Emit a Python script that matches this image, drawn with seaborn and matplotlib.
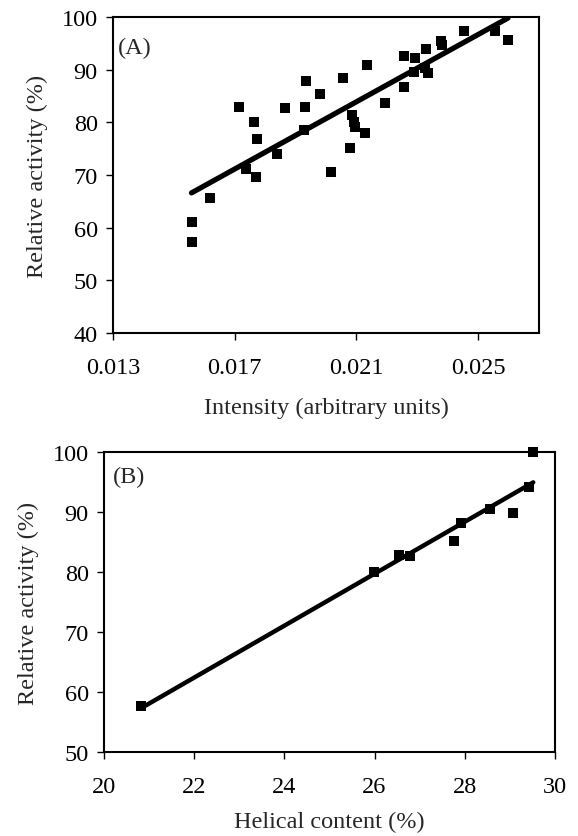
import numpy as np
import seaborn as sns
import matplotlib.pyplot as plt

# (A) intensity vs relative activity
intensity = [0.01558, 0.01560, 0.01618, 0.01713, 0.01738, 0.01762, 0.01769, 0.01773,
             0.01839, 0.01864, 0.01929, 0.01932, 0.01935, 0.01981, 0.02015, 0.02057,
             0.02080, 0.02086, 0.02091, 0.02096, 0.02127, 0.02135, 0.02194, 0.02258,
             0.02255, 0.02291, 0.02288, 0.02328, 0.02335, 0.02326, 0.02378, 0.02380,
             0.02454, 0.02556, 0.02598]
activity_a = [61.0, 57.3, 65.6, 82.9, 71.1, 80.0, 69.7, 76.8,
              74.0, 82.7, 78.6, 83.0, 87.8, 85.3, 70.5, 88.4,
              75.1, 81.3, 80.1, 79.1, 78.0, 90.9, 83.7, 86.8,
              92.5, 92.3, 89.5, 93.9, 89.4, 90.4, 95.5, 94.6,
              97.3, 97.4, 95.7]

# (B) helical content vs relative activity
helical = [20.82, 25.99, 26.55, 26.78, 27.77, 27.92, 28.57, 29.08, 29.42, 29.52]
activity_b = [57.7, 80.0, 82.8, 82.6, 85.1, 88.1, 90.5, 89.9, 94.1, 100.0]

xticks_a = [0.013, 0.017, 0.021, 0.025]
yticks_a = [40, 50, 60, 70, 80, 90, 100]
xticks_b = [20, 22, 24, 26, 28, 30]
yticks_b = [50, 60, 70, 80, 90, 100]

sns.set_theme(style='ticks')
plt.rcParams['font.family'] = ['Liberation Serif', 'DejaVu Serif']
fs = 17.5

fig = plt.figure(figsize=(5.78, 8.37), dpi=100)
ax1 = fig.add_axes([0.1955, 0.601, 0.737, 0.3775])
ax2 = fig.add_axes([0.180, 0.1004, 0.780, 0.3584])

pts = dict(marker='s', s=48, color='black', alpha=1, linewidths=0, clip_on=False)
sns.regplot(x=intensity, y=activity_a, ax=ax1, ci=None, truncate=True, color='black',
            marker='s', scatter_kws=pts, line_kws=dict(lw=3.8, solid_capstyle='round'))
sns.regplot(x=helical, y=activity_b, ax=ax2, ci=None, truncate=True, color='black',
            marker='s', scatter_kws=pts, line_kws=dict(lw=3.2, solid_capstyle='round'))

ax1.set_xlim(0.013, 0.027)
ax1.set_ylim(40, 100)
ax1.set_xticks(xticks_a)
ax1.set_xticklabels(['%.3f' % t for t in xticks_a])
ax1.set_yticks(yticks_a)
ax1.set_xlabel('Intensity (arbitrary units)', fontsize=fs, labelpad=14)
ax1.set_ylabel('Relative activity (%)', fontsize=fs, labelpad=10)
ax1.text(0.012, 0.905, '(A)', transform=ax1.transAxes, fontsize=fs, va='center')

ax2.set_xlim(20, 30)
ax2.set_ylim(50, 100)
ax2.set_xticks(xticks_b)
ax2.set_yticks(yticks_b)
ax2.set_xlabel('Helical content (%)', fontsize=fs, labelpad=10)
ax2.set_ylabel('Relative activity (%)', fontsize=fs, labelpad=10)
ax2.text(0.02, 0.92, '(B)', transform=ax2.transAxes, fontsize=fs, va='center')

for ax in (ax1, ax2):
    for sp in ax.spines.values():
        sp.set_visible(True)
        sp.set_linewidth(1.5)
        sp.set_color('black')
    ax.tick_params(direction='out', length=5, width=1, colors='black',
                   labelsize=fs)
    ax.tick_params(axis='x', pad=12)
    ax.tick_params(axis='y', pad=6)

fig.savefig('out.png', dpi=100)
